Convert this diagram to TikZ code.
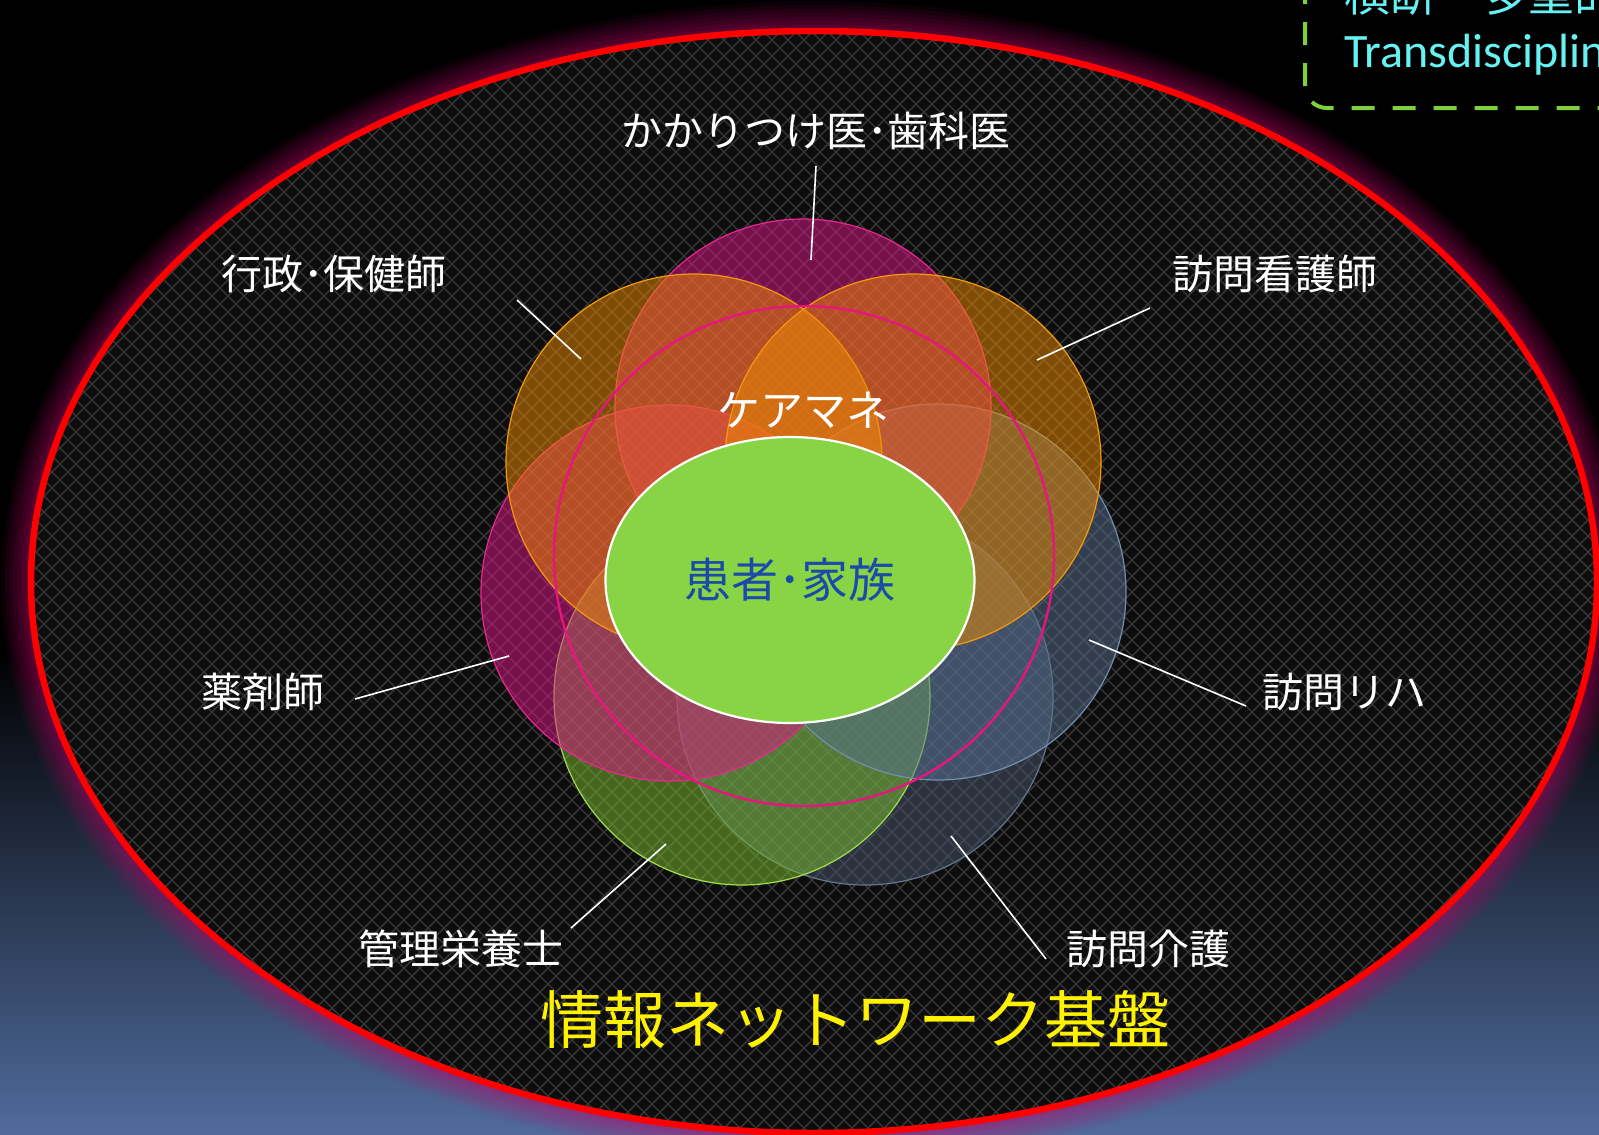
\documentclass[tikz,border=0pt]{standalone}
\usepackage{fontspec}
\setmainfont{Noto Sans CJK JP}
\newfontfamily\latinfont{Carlito}
\usetikzlibrary{shapes.geometric}
\definecolor{bgblue}{HTML}{506B9C}
\definecolor{glowc}{HTML}{C8006B}
\definecolor{innerbg}{HTML}{0D0D0D}
\definecolor{hatchc}{HTML}{383838}
\definecolor{magc}{HTML}{E0158A}
\definecolor{magd}{HTML}{E8288E}
\definecolor{orac}{HTML}{F08C00}
\definecolor{orad}{HTML}{F39A10}
\definecolor{bluc}{HTML}{587090}
\definecolor{blud}{HTML}{7090B0}
\definecolor{grnc}{HTML}{7FC030}
\definecolor{grnd}{HTML}{A0E050}
\definecolor{dkc}{HTML}{4A5870}
\definecolor{dkd}{HTML}{66758C}
\definecolor{ringc}{HTML}{E8157F}
\definecolor{centc}{HTML}{88D444}
\definecolor{patc}{HTML}{1C4AA8}
\definecolor{boxc}{HTML}{7ED03C}
\definecolor{cyanc}{HTML}{66F2F2}
\tikzset{
  petal/.style={circle, minimum size=376pt, inner sep=0pt, fill opacity=0.5, line width=1.2pt},
  lbl/.style={text=white, font=\fontsize{41}{49}\selectfont, inner sep=0pt},
  conn/.style={white, line width=1.6pt},
  hatch/.style={hatchc, line width=1.4pt},
}
\begin{document}
\begin{tikzpicture}[x=1pt,y=-1pt]
\useasboundingbox (0,0) rectangle (1599,1135);
\clip (0,0) rectangle (1599,1135);
% background
\fill[black] (0,0) rectangle (1599,1135);
\shade[top color=black, bottom color=bgblue] (0,650) rectangle (1599,1136);
% glow
\foreach \w/\o in {60/0.06,52/0.07,44/0.08,36/0.08,28/0.09,20/0.1,12/0.1}
  \draw[glowc, line width=\w pt, opacity=\o] (814,582) ellipse [x radius=783, y radius=551];
% inner field
\fill[innerbg] (814,582) ellipse [x radius=783, y radius=551];
\begin{scope}
  \clip (814,582) ellipse [x radius=783, y radius=551];
  \foreach \c in {-1136,-1120,...,1600} \draw[hatch] (\c,20) -- ++(1140,1140);
  \foreach \c in {40,56,...,2760} \draw[hatch] (\c,20) -- ++(-1140,1140);
\end{scope}
\draw[red, line width=6.5pt] (814,582) ellipse [x radius=783, y radius=551];
% petals
\node[petal, fill=dkc, draw=dkd] (kaigoC) at (865,697) {};
\node[petal, fill=grnc, draw=grnd] (eiyoC) at (742,697) {};
\node[petal, fill=bluc, draw=blud] (rihaC) at (938,592) {};
\node[petal, fill=magc, draw=magd] (yakuC) at (669,593) {};
\node[petal, fill=magc, draw=magd] (kakaC) at (803,407) {};
\node[petal, fill=orac, draw=orad] (gyoC) at (694,462) {};
\node[petal, fill=orac, draw=orad] (kanC) at (913,462) {};
% care manager ring
\node[circle, draw=ringc, line width=2.4pt, minimum size=500pt, inner sep=0pt] (ring) at (804,556) {};
\node[text=white, font=\fontsize{43}{50}\selectfont, inner sep=0pt] (cm) at (803,410) {ケアマネ};
% center
\node[ellipse, fill=centc, draw=white, line width=2.2pt, minimum width=369pt, minimum height=286pt, inner sep=0pt,
      text=patc, font=\fontsize{47}{52}\selectfont] (pat) at (790,580) {患者･家族};
% labels
\node[lbl] (kaka) at (816,131) {かかりつけ医･歯科医};
\node[lbl] (gyo) at (334,274) {行政･保健師};
\node[lbl] (kan) at (1275,274) {訪問看護師};
\node[lbl] (yaku) at (263,692) {薬剤師};
\node[lbl] (riha) at (1344,692) {訪問リハ};
\node[lbl] (eiyo) at (461,949) {管理栄養士};
\node[lbl] (kaigo) at (1148,949) {訪問介護};
\node[text=yellow, font=\fontsize{63}{70}\selectfont, inner sep=0pt] (net) at (855,1020) {情報ネットワーク基盤};
% connectors
\coordinate (kaka1) at (816,166); \coordinate (kaka2) at (811,260);
\coordinate (gyo1) at (517,300);  \coordinate (gyo2) at (581,359);
\coordinate (kan1) at (1150,308); \coordinate (kan2) at (1037,360);
\coordinate (yaku1) at (355,699); \coordinate (yaku2) at (509,656);
\coordinate (riha1) at (1246,706); \coordinate (riha2) at (1089,640);
\coordinate (eiyo1) at (571,928); \coordinate (eiyo2) at (666,844);
\coordinate (kaigo1) at (1046,959); \coordinate (kaigo2) at (951,836);
\draw[conn] (kaka1) -- (kaka2);
\draw[conn] (gyo1) -- (gyo2);
\draw[conn] (kan1) -- (kan2);
\draw[conn] (yaku1) -- (yaku2);
\draw[conn] (riha1) -- (riha2);
\draw[conn] (eiyo1) -- (eiyo2);
\draw[conn] (kaigo1) -- (kaigo2);
% top-right box
\coordinate (boxa) at (1305,-60);
\coordinate (boxb) at (1305,108);
\coordinate (boxc) at (1720,108);
\draw[boxc, line width=4pt, dash pattern=on 23pt off 18pt, rounded corners=22pt] (boxa) -- (boxb) -- (boxc);
\node[anchor=base west, text=cyanc, font=\fontsize{46}{50}\selectfont, inner sep=0pt] (box1) at (1344,11) {横断　多重的};
\node[anchor=base west, text=cyanc, font=\latinfont\fontsize{48}{52}\selectfont, inner sep=0pt] (box2) at (1344,67) {Transdisciplinary};
\end{tikzpicture}
\end{document}
